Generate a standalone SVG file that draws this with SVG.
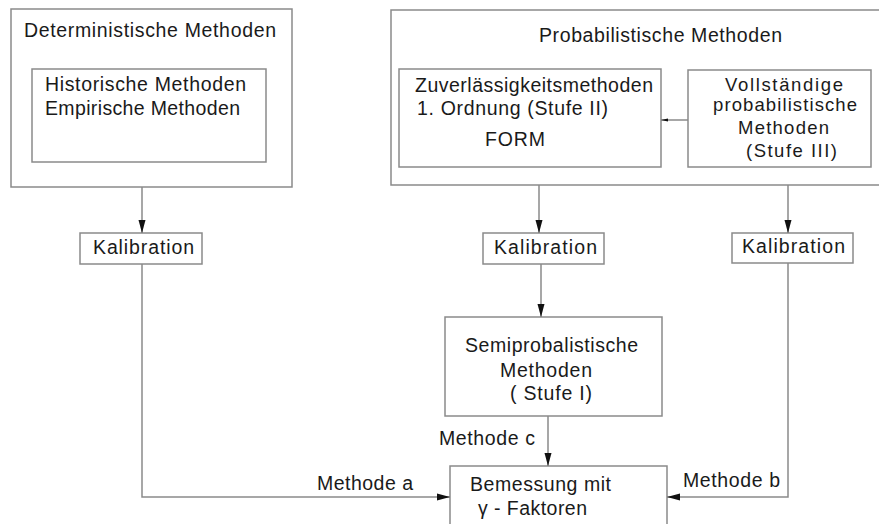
<svg xmlns="http://www.w3.org/2000/svg" width="879" height="524" viewBox="0 0 879 524">
<defs>
<marker id="ah" markerUnits="userSpaceOnUse" markerWidth="14" markerHeight="8" refX="13" refY="4" orient="auto">
<path d="M0,0.5 L13,4 L0,7.5 z" fill="#111"/>
</marker>
<marker id="ahs" markerUnits="userSpaceOnUse" markerWidth="8" markerHeight="4" refX="7" refY="2" orient="auto">
<path d="M0,0.5 L7,2 L0,3.5 z" fill="#111"/>
</marker>
<style>
.box{fill:#fff;stroke:#8a8a8a;stroke-width:1.5}
.ln{fill:none;stroke:#8a8a8a;stroke-width:1.5}
text{font-family:"Liberation Sans",Arial,sans-serif;font-size:19.5px;fill:#1a1a1a}
.sm{font-size:18.5px}
</style>
</defs>
<rect width="879" height="524" fill="#fff"/>

<g id="deterministisch">
<rect class="box" x="11" y="9" width="281" height="178"/>
<text x="24" y="37" textLength="252">Deterministische Methoden</text>
</g>
<g id="historisch">
<rect class="box" x="32" y="69" width="234" height="93"/>
<text x="45" y="91" textLength="201">Historische Methoden</text>
<text x="45" y="115" textLength="195">Empirische Methoden</text>
</g>
<g id="probabilistisch">
<rect class="box" x="391" y="10" width="500" height="175"/>
<text x="539" y="42" textLength="243">Probabilistische Methoden</text>
</g>
<g id="zuverlaessigkeit">
<rect class="box" x="399" y="69" width="262" height="98"/>
<text x="415" y="92" textLength="238">Zuverlässigkeitsmethoden</text>
<text x="417" y="115" textLength="191">1. Ordnung (Stufe II)</text>
<text x="485" y="146" textLength="60">FORM</text>
</g>
<g id="vollstaendig">
<rect class="box" x="688" y="70" width="183" height="97"/>
<text class="sm" x="725" y="91" textLength="118">Vollständige</text>
<text class="sm" x="713" y="111" textLength="144">probabilistische</text>
<text class="sm" x="738" y="134" textLength="91">Methoden</text>
<text class="sm" x="746" y="157" textLength="91">(Stufe III)</text>
</g>
<g id="kalibration-a">
<rect class="box" x="80" y="233" width="122" height="31"/>
<text x="93" y="254" textLength="101">Kalibration</text>
</g>
<g id="kalibration-c">
<rect class="box" x="483" y="233" width="121" height="31"/>
<text x="494" y="254" textLength="103">Kalibration</text>
</g>
<g id="kalibration-b">
<rect class="box" x="732" y="233" width="121" height="30"/>
<text x="742" y="253" textLength="103">Kalibration</text>
</g>
<g id="semiprobabilistisch">
<rect class="box" x="445" y="317" width="217" height="99"/>
<text x="465" y="352" textLength="173">Semiprobalistische</text>
<text x="500" y="377" textLength="92">Methoden</text>
<text x="510" y="400" textLength="82">( Stufe I)</text>
</g>
<g id="bemessung">
<rect class="box" x="450" y="466" width="217" height="70"/>
<text x="470" y="491" textLength="141">Bemessung mit</text>
<text x="478" y="515" textLength="109">γ - Faktoren</text>
</g>

<g id="connectors">
<line class="ln" x1="142" y1="187" x2="142" y2="233" marker-end="url(#ah)"/>
<line class="ln" x1="539" y1="185" x2="539" y2="233" marker-end="url(#ah)"/>
<line class="ln" x1="788" y1="185" x2="788" y2="233" marker-end="url(#ah)"/>
<line class="ln" x1="688" y1="120" x2="661" y2="120" marker-end="url(#ahs)"/>
<line class="ln" x1="541" y1="264" x2="541" y2="317" marker-end="url(#ah)"/>
<line class="ln" x1="548" y1="416" x2="548" y2="466" marker-end="url(#ah)"/>
<polyline class="ln" points="142,264 142,497 450,497" marker-end="url(#ah)"/>
<polyline class="ln" points="788,263 788,497 667,497" marker-end="url(#ah)"/>
<text x="317" y="490" textLength="96">Methode a</text>
<text x="683" y="487" textLength="97">Methode b</text>
<text x="439" y="445" textLength="96">Methode c</text>
</g>
</svg>
